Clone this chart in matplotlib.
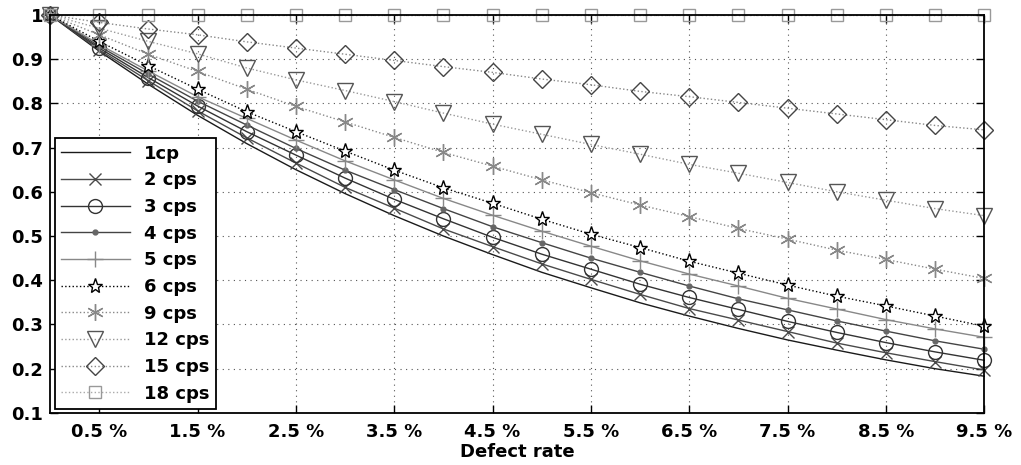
import matplotlib
matplotlib.use("Agg")
import matplotlib.pyplot as plt
import numpy as np

# Defect rate in percent, one point every 0.5 %
defect_rate = [0.0, 0.5, 1.0, 1.5, 2.0, 2.5, 3.0, 3.5, 4.0, 4.5,
               5.0, 5.5, 6.0, 6.5, 7.0, 7.5, 8.0, 8.5, 9.0, 9.5]

cp1 = [1.0, 0.918, 0.843, 0.773, 0.709, 0.650, 0.596, 0.546, 0.500, 0.458,
       0.418, 0.383, 0.349, 0.319, 0.291, 0.265, 0.242, 0.220, 0.200, 0.183]
cps2 = [1.0, 0.921, 0.851, 0.783, 0.722, 0.665, 0.610, 0.563, 0.516, 0.476,
        0.437, 0.402, 0.368, 0.336, 0.310, 0.284, 0.258, 0.236, 0.216, 0.197]
cps3 = [1.0, 0.925, 0.858, 0.794, 0.736, 0.683, 0.631, 0.583, 0.539, 0.497,
        0.459, 0.425, 0.391, 0.361, 0.334, 0.307, 0.282, 0.259, 0.238, 0.219]
cps4 = [1.0, 0.929, 0.866, 0.805, 0.751, 0.698, 0.649, 0.605, 0.562, 0.521,
        0.485, 0.450, 0.418, 0.387, 0.358, 0.333, 0.308, 0.285, 0.263, 0.244]
cps5 = [1.0, 0.933, 0.873, 0.815, 0.766, 0.717, 0.670, 0.627, 0.585, 0.547,
        0.511, 0.477, 0.444, 0.414, 0.387, 0.359, 0.335, 0.311, 0.290, 0.271]
cps6 = [1.0, 0.940, 0.885, 0.832, 0.781, 0.736, 0.692, 0.649, 0.609, 0.574,
        0.538, 0.504, 0.474, 0.443, 0.416, 0.389, 0.364, 0.342, 0.319, 0.296]
cps9 = [1.0, 0.955, 0.911, 0.872, 0.832, 0.793, 0.758, 0.723, 0.689, 0.658,
        0.627, 0.598, 0.570, 0.544, 0.517, 0.493, 0.468, 0.447, 0.425, 0.404]
cps12 = [1.0, 0.970, 0.940, 0.912, 0.880, 0.853, 0.829, 0.804, 0.778, 0.753,
         0.730, 0.707, 0.685, 0.662, 0.642, 0.621, 0.600, 0.581, 0.562, 0.546]
cps15 = [1.0, 0.983, 0.968, 0.955, 0.939, 0.925, 0.911, 0.897, 0.883, 0.870,
         0.855, 0.842, 0.827, 0.815, 0.802, 0.789, 0.776, 0.763, 0.750, 0.740]
cps18 = [1.0] * 20

labels = ["1cp", "2 cps", "3 cps", "4 cps", "5 cps",
          "6 cps", "9 cps", "12 cps", "15 cps", "18 cps"]

xtick_pos = [0.5, 1.5, 2.5, 3.5, 4.5, 5.5, 6.5, 7.5, 8.5, 9.5]
xtick_labels = [f"{v} %" for v in xtick_pos]
ytick_pos = [0.1, 0.2, 0.3, 0.4, 0.5, 0.6, 0.7, 0.8, 0.9, 1.0]
ytick_labels = ["0.1", "0.2", "0.3", "0.4", "0.5", "0.6", "0.7", "0.8", "0.9", "1"]

plt.rcParams["font.family"] = ["DejaVu Sans"]
plt.rcParams["font.weight"] = "bold"

fig = plt.figure(figsize=(10.21, 4.65), dpi=100)
ax = fig.add_axes([0.049, 0.112, 0.915, 0.856])

x = np.array(defect_rate)

# (values, line colour, linestyle, marker, marker size, marker edge colour)
styles = [
    (cp1, "#1a1a1a", "-", "None", 0, "#1a1a1a"),
    (cps2, "#4a4a4a", "-", "x", 8, "#4a4a4a"),
    (cps3, "#333333", "-", "o", 10, "#333333"),
    (cps4, "#444444", "-", "o", 3.5, "#666666"),
    (cps5, "#888888", "-", "+", 12, "#888888"),
    (cps6, "#000000", ":", "*", 11, "#000000"),
    (cps9, "#888888", ":", (6, 2, 0), 12, "#888888"),
    (cps12, "#999999", ":", "v", 11, "#555555"),
    (cps15, "#888888", ":", "D", 9, "#444444"),
    (cps18, "#aaaaaa", ":", "s", 9, "#999999"),
]

for (vals, col, ls, mk, ms, mec), lab in zip(styles, labels):
    fill = "none"
    if lab == "4 cps":
        fill = "#666666"
    if lab == "6 cps":
        fill = "white"
    ax.plot(x, vals, color=col, linestyle=ls, linewidth=1.0, marker=mk,
            markersize=ms, markeredgecolor=mec, markerfacecolor=fill,
            markeredgewidth=1.0, label=lab, clip_on=False)

ax.set_xlim(0, 9.5)
ax.set_ylim(0.1, 1.0)
ax.set_xticks(xtick_pos)
ax.set_xticklabels(xtick_labels)
ax.set_yticks(ytick_pos)
ax.set_yticklabels(ytick_labels)
ax.tick_params(direction="in", length=6, width=1.0, top=True, right=True,
               labelsize=13, pad=7)
ax.tick_params(axis="y", pad=5)
ax.grid(True, linestyle=(0, (1, 4)), color="#555555", linewidth=0.8)
for sp in ax.spines.values():
    sp.set_linewidth(1.3)
ax.set_xlabel("Defect rate", fontsize=13, fontweight="bold", labelpad=2)

leg = ax.legend(loc="lower left", bbox_to_anchor=(0.005, 0.01), borderaxespad=0,
                numpoints=1, handlelength=3.8, handletextpad=0.8,
                labelspacing=0.48, borderpad=0.35, fancybox=False, framealpha=1,
                prop={"size": 13, "weight": "bold"})
leg.get_frame().set_edgecolor("black")
leg.get_frame().set_linewidth(1.3)

fig.savefig("out.png", dpi=100)
